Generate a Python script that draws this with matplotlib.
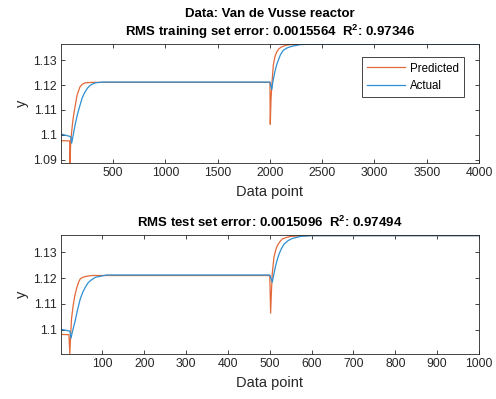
import numpy as np
import matplotlib
matplotlib.use('Agg')
import matplotlib.pyplot as plt
from matplotlib.ticker import FormatStrFormatter

plt.rcParams['font.family'] = ['Liberation Sans', 'DejaVu Sans']
plt.rcParams['mathtext.fontset'] = 'custom'
plt.rcParams['mathtext.rm'] = 'Liberation Sans'
plt.rcParams['mathtext.bf'] = 'Liberation Sans:bold'

# training set
train_act_x = [1, 95, 103, 113, 135, 160, 183, 205, 230, 255, 280, 305, 330, 400, 2000, 2017, 2030, 2047,
               2063, 2080, 2100, 2127, 2165, 2207, 2287, 2400, 4000]
train_act_y = [1.1003, 1.0992, 1.0966, 1.0988, 1.1038, 1.1085, 1.1119, 1.1150, 1.1172, 1.1188, 1.1199, 1.1205,
               1.1209, 1.1212, 1.1212, 1.1182, 1.1218, 1.1253, 1.1280, 1.1300, 1.1322, 1.1340, 1.1350, 1.1356,
               1.1363, 1.1365, 1.1365]
train_pred_x = [1, 84, 88, 92, 100, 113, 125, 135, 155, 183, 205, 230, 300, 2000, 2003, 2010, 2018, 2032,
                2048, 2064, 2085, 2112, 2150, 2190, 2300, 4000]
train_pred_y = [1.0976, 1.0975, 1.0886, 1.0950, 1.1000, 1.1052, 1.1088, 1.1112, 1.1160, 1.1193, 1.1203, 1.1209,
                1.1211, 1.1211, 1.1042, 1.1140, 1.1200, 1.1280, 1.1315, 1.1333, 1.1346, 1.1354, 1.1360, 1.1363,
                1.1365, 1.1365]

# test set
test_act_x = [1, 22, 25, 28, 35, 41, 47, 53, 59, 65, 71, 83, 95, 110, 500, 506, 510, 514, 518, 522, 528,
              534, 544, 554, 574, 600, 1000]
test_act_y = [1.1001, 1.0994, 1.0967, 1.0990, 1.1035, 1.1080, 1.1119, 1.1145, 1.1164, 1.1180, 1.1190, 1.1203,
              1.1207, 1.1212, 1.1212, 1.1184, 1.1218, 1.1248, 1.1272, 1.1293, 1.1315, 1.1332, 1.1346, 1.1354,
              1.1362, 1.1365, 1.1365]
test_pred_x = [1, 20, 22, 24, 26, 30, 34, 39, 43, 47, 53, 59, 75, 500, 502, 504, 506, 510, 514, 518, 524,
               530, 540, 550, 580, 1000]
test_pred_y = [1.0981, 1.0980, 1.0905, 1.0975, 1.1040, 1.1093, 1.1132, 1.1164, 1.1184, 1.1197, 1.1203, 1.1206,
               1.1210, 1.1210, 1.1064, 1.1150, 1.1220, 1.1281, 1.1308, 1.1326, 1.1341, 1.1352, 1.1358, 1.1362,
               1.1365, 1.1365]

titles = ['Data: Van de Vusse reactor\nRMS training set error: 0.0015564  $\\mathbf{R^2}$: 0.97346',
          'RMS test set error: 0.0015096  $\\mathbf{R^2}$: 0.97494']
yticks_top = [1.09, 1.1, 1.11, 1.12, 1.13]
yticks_bot = [1.1, 1.11, 1.12, 1.13]

c_pred = '#E2693A'
c_act = '#2D8FD2'
gray = '#262626'

fig = plt.figure(figsize=(4.96, 3.99), dpi=100)
ax1 = fig.add_axes([0.123, 0.5915, 0.8427, 0.2982])
ax2 = fig.add_axes([0.123, 0.1128, 0.8427, 0.2970])

panels = [
    (ax1, train_pred_x, train_pred_y, train_act_x, train_act_y, 4000, yticks_top, np.arange(500, 4001, 500), titles[0]),
    (ax2, test_pred_x, test_pred_y, test_act_x, test_act_y, 1000, yticks_bot, np.arange(100, 1001, 100), titles[1]),
]

for ax, px, py, axx, ay, n, yt, xt, ttl in panels:
    ax.plot(px, py, color=c_pred, lw=0.9, label='Predicted')
    ax.plot(axx, ay, color=c_act, lw=0.9, label='Actual')
    ax.set_xlim(1, n)
    ax.set_ylim(min(py), max(max(py), max(ay)) + 0.00005)
    ax.set_xticks(xt)
    ax.set_yticks(yt)
    ax.yaxis.set_major_formatter(FormatStrFormatter('%g'))
    ax.tick_params(direction='in', length=3, width=0.6, top=True, right=True,
                   labelsize=8.8, colors=gray, pad=3)
    for s in ax.spines.values():
        s.set_color(gray)
        s.set_linewidth(0.6)
    ax.set_xlabel('Data point', fontsize=10.5, color=gray, labelpad=4)
    ax.set_ylabel('y', fontsize=10.5, color=gray, labelpad=3)
    ax.set_title(ttl, fontsize=9.5, fontweight='bold', pad=6, linespacing=1.2)

leg = ax1.legend(loc='upper right', bbox_to_anchor=(0.964, 0.888), fontsize=8.3,
                 handlelength=3.3, handletextpad=0.4, borderpad=0.45, fancybox=False,
                 framealpha=1, borderaxespad=0)
leg.get_frame().set_edgecolor(gray)
leg.get_frame().set_linewidth(0.6)

plt.savefig('out.png', dpi=100)
